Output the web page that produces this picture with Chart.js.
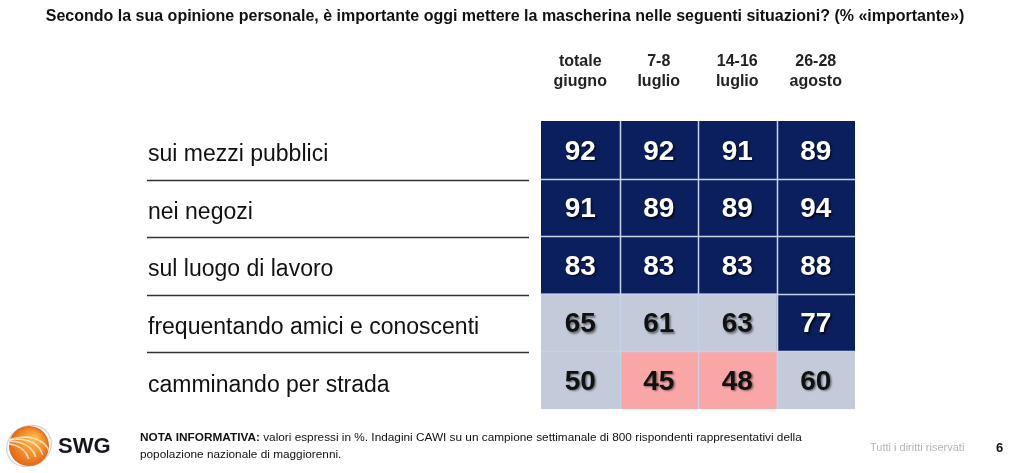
<!DOCTYPE html>
<html>
<head>
<meta charset="utf-8">
<script src="https://cdn.jsdelivr.net/npm/chart.js@4/dist/chart.umd.min.js"></script>
<style>
  html, body { margin: 0; padding: 0; background: #fff; }
  #wrap { width: 1024px; height: 473px; position: relative; }
</style>
</head>
<body>
<div id="wrap"><canvas id="chart" width="1024" height="473"></canvas></div>
<script>
// Table data (% "importante")
const titleText = 'Secondo la sua opinione personale, è importante oggi mettere la mascherina nelle seguenti situazioni? (% «importante»)';
const columnLabels = [['totale', 'giugno'], ['7-8', 'luglio'], ['14-16', 'luglio'], ['26-28', 'agosto']];
const rowLabels = [
  'sui mezzi pubblici',
  'nei negozi',
  'sul luogo di lavoro',
  'frequentando amici e conoscenti',
  'camminando per strada'
];
const totaleGiugno = [92, 91, 83, 65, 50];
const luglio78 = [92, 89, 83, 61, 45];
const luglio1416 = [91, 89, 83, 63, 48];
const agosto2628 = [89, 94, 88, 77, 60];
const columnValues = [totaleGiugno, luglio78, luglio1416, agosto2628];

const NAVY = '#0b1f5f';
const GREY = '#c3cad9';
const PINK = '#f9a6a6';
const FONT = '"Liberation Sans", Arial, sans-serif';

function cellColor(v) {
  if (v >= 70) return NAVY;
  if (v >= 50) return GREY;
  return PINK;
}

// each column is a dataset of floating bars [col, col + 1], one per row
const datasets = columnValues.map((vals, c) => ({
  label: columnLabels[c].join(' '),
  data: vals.map(() => [c, c + 1]),
  values: vals,
  backgroundColor: vals.map(cellColor),
  borderWidth: 0,
  barPercentage: 1,
  categoryPercentage: 1,
  grouped: false
}));

// Cell numbers, grid dividers, row separators, title and footer
const tablePlugin = {
  id: 'tableDecor',
  afterDatasetsDraw(chart) {
    const ctx = chart.ctx;
    const area = chart.chartArea;
    const xs = chart.scales.x;
    const ys = chart.scales.y;

    // dividers between cells
    ctx.save();
    ctx.strokeStyle = '#c6d2ea';
    ctx.lineWidth = 1.5;
    for (let c = 1; c < columnValues.length; c++) {
      const px = Math.round(xs.getPixelForValue(c)) + 0.5;
      ctx.beginPath();
      ctx.moveTo(px, area.top);
      ctx.lineTo(px, area.bottom);
      ctx.stroke();
    }
    for (let r = 1; r < rowLabels.length; r++) {
      const py = Math.round((ys.getPixelForValue(r - 1) + ys.getPixelForValue(r)) / 2) + 0.5;
      ctx.beginPath();
      ctx.moveTo(area.left, py);
      ctx.lineTo(area.right, py);
      ctx.stroke();
    }
    ctx.restore();

    // numbers
    ctx.save();
    ctx.font = 'bold 28px ' + FONT;
    ctx.textAlign = 'center';
    ctx.textBaseline = 'middle';
    chart.data.datasets.forEach((ds, i) => {
      chart.getDatasetMeta(i).data.forEach((bar, j) => {
        const v = ds.values[j];
        const p = bar.getCenterPoint();
        const dark = cellColor(v) === NAVY;
        ctx.shadowColor = dark ? 'rgba(0,0,0,0.75)' : 'rgba(0,0,0,0.45)';
        ctx.shadowOffsetX = 1.5;
        ctx.shadowOffsetY = 1.5;
        ctx.shadowBlur = 2;
        ctx.fillStyle = dark ? '#ffffff' : '#111111';
        ctx.fillText(String(v), p.x, p.y + 2);
      });
    });
    ctx.restore();

    // separators under the row labels
    ctx.save();
    ctx.strokeStyle = '#333333';
    ctx.lineWidth = 1.5;
    for (let r = 1; r < rowLabels.length; r++) {
      const py = Math.round((ys.getPixelForValue(r - 1) + ys.getPixelForValue(r)) / 2) + 1.5;
      ctx.beginPath();
      ctx.moveTo(147, py);
      ctx.lineTo(529, py);
      ctx.stroke();
    }
    ctx.restore();

    // title
    ctx.save();
    ctx.fillStyle = '#111111';
    ctx.font = 'bold 16px ' + FONT;
    ctx.textAlign = 'center';
    ctx.textBaseline = 'middle';
    ctx.fillText(titleText, 505, 17);
    ctx.restore();

    drawFooter(ctx);
  }
};

function drawFooter(ctx) {
  // SWG logo sphere
  ctx.save();
  const cx = 29, cy = 446, rad = 20;
  ctx.strokeStyle = 'rgba(190,190,200,0.7)';
  ctx.lineWidth = 1.2;
  ctx.beginPath();
  ctx.ellipse(cx, cy, 23, 20, -0.5, 0, Math.PI * 2);
  ctx.stroke();
  const g = ctx.createRadialGradient(cx + 6, cy - 8, 3, cx, cy, rad);
  g.addColorStop(0, '#ffb347');
  g.addColorStop(0.6, '#f28c28');
  g.addColorStop(1, '#e2661a');
  ctx.fillStyle = g;
  ctx.beginPath();
  ctx.arc(cx, cy, rad, 0, Math.PI * 2);
  ctx.fill();
  ctx.clip();
  ctx.strokeStyle = 'rgba(255,235,210,0.85)';
  ctx.lineWidth = 1.6;
  [-10, -3, 4, 11].forEach(off => {
    ctx.beginPath();
    ctx.ellipse(cx - 30 + off, cy + 30 - off * 0.3, 45, 30, -0.6, -1.2, 0.2);
    ctx.stroke();
  });
  ctx.restore();

  ctx.save();
  ctx.fillStyle = '#151520';
  ctx.font = 'bold 22px ' + FONT;
  ctx.textBaseline = 'middle';
  ctx.fillText('SWG', 58, 447);

  ctx.fillStyle = '#111111';
  ctx.font = 'bold 11.8px ' + FONT;
  const lead = 'NOTA INFORMATIVA:';
  ctx.fillText(lead, 140, 438);
  const w = ctx.measureText(lead + ' ').width;
  ctx.font = '11.8px ' + FONT;
  ctx.fillText('valori espressi in %. Indagini CAWI su un campione settimanale di 800 rispondenti rappresentativi della', 140 + w, 438);
  ctx.fillText('popolazione nazionale di maggiorenni.', 140, 455);

  ctx.fillStyle = '#b5b5b5';
  ctx.font = '11px ' + FONT;
  ctx.fillText('Tutti i diritti riservati', 870, 448);
  ctx.fillStyle = '#111111';
  ctx.font = 'bold 13px ' + FONT;
  ctx.fillText('6', 996, 448);
  ctx.restore();
}

new Chart(document.getElementById('chart'), {
  type: 'bar',
  data: { labels: rowLabels, datasets: datasets },
  options: {
    indexAxis: 'y',
    responsive: false,
    animation: false,
    events: [],
    layout: { padding: { left: 148, right: 169, top: 52, bottom: 64 } },
    plugins: { legend: { display: false }, tooltip: { enabled: false } },
    scales: {
      x: { type: 'linear', min: 0, max: 4, display: false },
      header: {
        type: 'category',
        axis: 'x',
        position: 'top',
        labels: columnLabels,
        offset: true,
        grid: { display: false, drawTicks: false },
        border: { display: false },
        ticks: {
          color: '#222222',
          font: { family: FONT, size: 16, weight: 'bold', lineHeight: 1.25 },
          padding: 29,
          maxRotation: 0,
          autoSkip: false
        },
        afterFit(scale) { scale.height = 69; }
      },
      y: {
        type: 'category',
        grid: { display: false, drawTicks: false },
        border: { display: false },
        ticks: {
          crossAlign: 'far',
          color: '#111111',
          font: { family: FONT, size: 23 },
          padding: 0,
          labelOffset: 5,
          autoSkip: false
        },
        afterFit(scale) { scale.width = 393; }
      }
    }
  },
  plugins: [tablePlugin]
});
</script>
</body>
</html>
